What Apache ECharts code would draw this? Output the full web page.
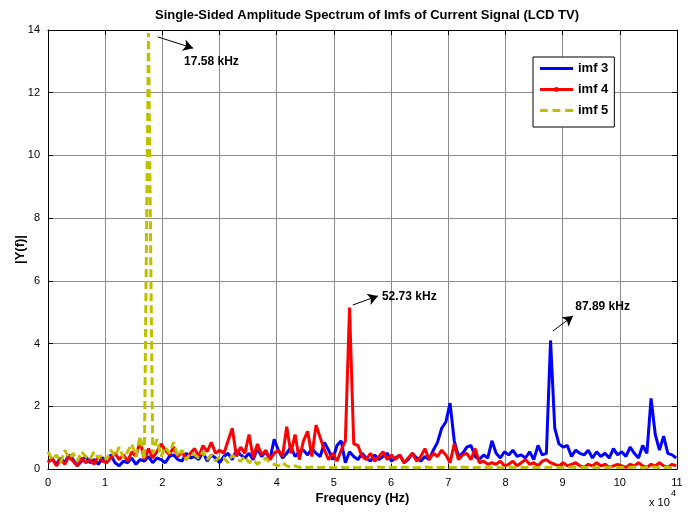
<!DOCTYPE html>
<html>
<head>
<meta charset="utf-8">
<script src="https://cdn.jsdelivr.net/npm/echarts@6/dist/echarts.min.js"></script>
<style>
  html, body { margin: 0; padding: 0; background: #fff; }
  #chart { width: 692px; height: 512px; }
</style>
</head>
<body>
<div id="chart"></div>
<script>
// frequency bin width, in units of 10^4 Hz
const binStep = 0.07324
const xTicks = ['0', '1', '2', '3', '4', '5', '6', '7', '8', '9', '10', '11']

// imf 3 (blue)
const imf3 = [
  0.25, 0.3, 0.15, 0.35, 0.2, 0.45, 0.3, 0.1, 0.25, 0.4, 0.2, 0.3, 0.15, 0.35,
  0.3, 0.45, 0.2, 0.1, 0.25, 0.2, 0.35, 0.15, 0.3, 0.25, 0.4, 0.2, 0.35, 0.3,
  0.2, 0.4, 0.45, 0.3, 0.25, 0.5, 0.35, 0.4, 0.3, 0.55, 0.25, 0.45, 0.35, 0.2,
  0.4, 0.5, 0.3, 0.6, 0.45, 0.35, 0.5, 0.3, 0.65, 0.4, 0.55, 0.3, 0.95,
  0.6, 0.35, 0.5, 0.7, 0.4, 0.55, 0.6, 0.45, 0.65, 0.5, 0.4, 0.85, 0.6, 0.3,
  0.75, 0.9, 0.2, 0.55, 0.4, 0.3, 0.5, 0.35, 0.25, 0.45, 0.3, 0.4, 0.5, 0.25,
  0.35, 0.45, 0.2, 0.3, 0.5, 0.35, 0.25, 0.4, 0.3, 0.6, 0.85, 1.3, 1.5,
  2.1, 0.9, 0.4, 0.5, 0.7, 0.75, 0.4, 0.3, 0.45, 0.35, 0.9, 0.5, 0.35, 0.55,
  0.45, 0.6, 0.4, 0.45, 0.35, 0.55, 0.3, 0.75, 0.45, 0.5, 4.1, 1.3, 0.8, 0.7,
  0.75, 0.4, 0.6, 0.5, 0.45, 0.6, 0.35, 0.55, 0.4, 0.5, 0.35, 0.65, 0.45,
  0.55, 0.4, 0.7, 0.5, 0.35, 0.75, 0.5, 2.25, 1.1, 0.6, 1.05, 0.5, 0.45, 0.35
]

// imf 4 (red)
const imf4 = [
  0.2, 0.35, 0.1, 0.3, 0.15, 0.4, 0.25, 0.1, 0.35, 0.2, 0.3, 0.15, 0.4, 0.25,
  0.2, 0.35, 0.5, 0.3, 0.45, 0.25, 0.55, 0.4, 0.9, 0.3, 0.65, 0.35, 0.55, 0.8,
  0.6, 0.45, 0.7, 0.4, 0.55, 0.3, 0.5, 0.65, 0.4, 0.75, 0.55, 0.85, 0.5, 0.6,
  0.5, 0.9, 1.3, 0.4, 0.7, 0.5, 1.1, 0.35, 0.8, 0.45, 0.6, 0.3, 0.5,
  0.6, 0.4, 1.35, 0.5, 1.1, 0.3, 0.9, 1.2, 0.4, 1.4, 1.0, 0.6, 0.3, 0.5,
  0.25, 0.6, 0.9, 5.15, 0.8, 0.75, 0.4, 0.3, 0.5, 0.25, 0.4, 0.55, 0.3, 0.45,
  0.3, 0.45, 0.2, 0.35, 0.5, 0.25, 0.4, 0.65, 0.3, 0.5, 0.4, 0.6, 0.45,
  0.2, 0.8, 0.3, 0.45, 0.5, 0.3, 0.65, 0.2, 0.25, 0.15, 0.2, 0.15, 0.25, 0.1,
  0.15, 0.25, 0.1, 0.2, 0.3, 0.15, 0.2, 0.1, 0.25, 0.3, 0.2, 0.15, 0.1, 0.2,
  0.1, 0.15, 0.2, 0.1, 0.05, 0.15, 0.1, 0.2, 0.1, 0.15, 0.05, 0.1, 0.15,
  0.1, 0.05, 0.15, 0.1, 0.2, 0.1, 0.05, 0.15, 0.1, 0.2, 0.1, 0.05, 0.15, 0.1
]

// imf 5 (yellow, dashed)
const imf5 = [
  0.55, 0.3, 0.45, 0.2, 0.6, 0.35, 0.5, 0.25, 0.55, 0.4, 0.3, 0.55, 0.35, 0.45,
  0.3, 0.6, 0.4, 0.7, 0.35, 0.55, 0.8, 0.4, 1.05, 0.3, 13.9, 0.5, 0.95, 0.4,
  0.7, 0.5, 0.85, 0.4, 0.6, 0.3, 0.5, 0.45, 0.35, 0.55, 0.3, 0.45, 0.25, 0.4,
  0.35, 0.2, 0.45, 0.3, 0.25, 0.4, 0.2, 0.3, 0.15, 0.25, 0.35, 0.2, 0.15,
  0.1, 0.2, 0.1, 0.05, 0.1, 0.05, 0.08, 0.05, 0.06, 0.05, 0.04, 0.06, 0.05, 0.04,
  0.05, 0.06, 0.04, 0.05, 0.05, 0.04, 0.06, 0.05, 0.04, 0.05, 0.06, 0.05, 0.04, 0.05,
  0.05, 0.04, 0.06, 0.05, 0.05, 0.04, 0.05, 0.06, 0.05, 0.04, 0.05, 0.05, 0.06,
  0.05, 0.04, 0.05, 0.06, 0.05, 0.04, 0.05, 0.05, 0.06, 0.04, 0.05, 0.05, 0.04, 0.05,
  0.06, 0.05, 0.04, 0.05, 0.05, 0.06, 0.04, 0.05, 0.05, 0.04, 0.06, 0.05, 0.05, 0.04,
  0.05, 0.06, 0.05, 0.04, 0.05, 0.05, 0.06, 0.04, 0.05, 0.05, 0.04, 0.06, 0.05,
  0.05, 0.04, 0.05, 0.06, 0.05, 0.04, 0.05, 0.05, 0.06, 0.04, 0.05, 0.05, 0.04, 0.05
]

// annotations: [arrow start x, y, arrow end x, y, text x, y, label]
const notes = [
  [1.92, 13.78, 2.54, 13.42, 2.38, 12.98, '17.58 kHz'],
  [5.33, 5.23, 5.77, 5.52, 5.84, 5.48, '52.73 kHz'],
  [8.83, 4.40, 9.18, 4.88, 9.22, 5.17, '87.89 kHz']
]

const FONT = '"Liberation Sans", Arial, sans-serif'

// legend icons (solid line, line with dot marker, dashed line)
const ICON_SOLID = 'path://M0,4.5 L34,4.5 L34,7.5 L0,7.5 Z'
const ICON_DOT = 'path://M0,4.5 L34,4.5 L34,7.5 L0,7.5 Z M14.5,6 A2.5,2.5 0 1 1 19.5,6 A2.5,2.5 0 1 1 14.5,6 Z'
const ICON_DASH = 'path://M0,4.5 L8,4.5 L8,7.5 L0,7.5 Z M13,4.5 L21,4.5 L21,7.5 L13,7.5 Z M26,4.5 L34,4.5 L34,7.5 L26,7.5 Z'

function pairs(arr) {
  return arr.map((v, i) => [i * binStep, v])
}

const chart = echarts.init(document.getElementById('chart'))

const axisCommon = {
  min: 0,
  axisLine: { show: true, onZero: false, lineStyle: { color: '#000', width: 1 } },
  axisTick: { show: true, inside: true, length: 5, lineStyle: { color: '#000' } },
  axisLabel: { color: '#000', fontSize: 11, fontFamily: FONT },
  splitLine: { show: false }
}

chart.setOption({
  animation: false,
  backgroundColor: '#fff',
  title: {
    text: 'Single-Sided Amplitude Spectrum of Imfs of Current Signal (LCD TV)',
    left: 362,
    textAlign: 'center',
    top: 4,
    textStyle: { fontSize: 13, fontWeight: 'bold', color: '#000', fontFamily: FONT }
  },
  grid: { left: 48, right: 15, top: 30, bottom: 43, outerBoundsMode: 'none' },
  legend: {
    data: [
      { name: 'imf 3', icon: ICON_SOLID },
      { name: 'imf 4', icon: ICON_DOT },
      { name: 'imf 5', icon: ICON_DASH }
    ],
    orient: 'vertical',
    left: 533,
    top: 57,
    padding: [5, 6, 10, 7],
    itemGap: 8,
    itemWidth: 33,
    itemHeight: 14,
    itemTextGap: 5,
    backgroundColor: '#fff',
    borderColor: '#000',
    borderWidth: 1,
    textStyle: { fontSize: 13, fontWeight: 'bold', color: '#000', fontFamily: FONT }
  },
  xAxis: [
    Object.assign({}, axisCommon, {
      type: 'value',
      max: 11,
      interval: 1,
      name: 'Frequency (Hz)',
      nameLocation: 'middle',
      nameGap: 23,
      nameMoveOverlap: false,
      nameTextStyle: { fontSize: 13, fontWeight: 'bold', color: '#000', fontFamily: FONT },
      axisLabel: Object.assign({}, axisCommon.axisLabel, {
        margin: 8,
        formatter: v => xTicks[Math.round(v)]
      }),
      splitLine: { show: true, lineStyle: { color: '#8c8c8c', width: 1 } }
    }),
    Object.assign({}, axisCommon, {
      type: 'value',
      position: 'top',
      max: 11,
      interval: 1,
      axisLabel: { show: false }
    })
  ],
  yAxis: [
    Object.assign({}, axisCommon, {
      type: 'value',
      max: 14,
      interval: 2,
      name: '|Y(f)|',
      nameLocation: 'middle',
      nameGap: 21,
      nameMoveOverlap: false,
      nameTextStyle: { fontSize: 13, fontWeight: 'bold', color: '#000', fontFamily: FONT },
      splitLine: { show: true, lineStyle: { color: '#8c8c8c', width: 1 } }
    }),
    Object.assign({}, axisCommon, {
      type: 'value',
      position: 'right',
      max: 14,
      interval: 2,
      axisLabel: { show: false }
    })
  ],
  graphic: [
    {
      type: 'text',
      left: 649,
      top: 497,
      style: { text: 'x 10', fontSize: 11, fill: '#000', fontFamily: FONT }
    },
    {
      type: 'text',
      left: 671,
      top: 489,
      style: { text: '4', fontSize: 9, fill: '#000', fontFamily: FONT }
    }
  ],
  series: [
    {
      name: 'imf 3',
      type: 'line',
      data: pairs(imf3),
      symbol: 'none',
      lineStyle: { color: '#0000ff', width: 3 },
      itemStyle: { color: '#0000ff' },
      z: 2
    },
    {
      name: 'imf 4',
      type: 'line',
      data: pairs(imf4),
      symbol: 'none',
      lineStyle: { color: '#ff0000', width: 3 },
      itemStyle: { color: '#ff0000' },
      z: 3
    },
    {
      name: 'imf 5',
      type: 'line',
      data: pairs(imf5),
      symbol: 'none',
      lineStyle: { color: '#bfbf00', width: 3, type: [8, 4] },
      itemStyle: { color: '#bfbf00' },
      z: 4,
      markLine: {
        silent: true,
        symbol: ['none', 'arrow'],
        symbolSize: [9, 10],
        lineStyle: { color: '#000', width: 1, type: 'solid' },
        label: { show: false },
        data: notes.map(n => [
          { coord: [n[0], n[1]] },
          { coord: [n[2], n[3]] }
        ])
      },
      markPoint: {
        silent: true,
        symbol: 'circle',
        symbolSize: 0,
        label: {
          show: true,
          position: 'right',
          distance: 0,
          fontSize: 12,
          fontWeight: 'bold',
          color: '#000',
          fontFamily: FONT,
          formatter: p => p.name
        },
        data: notes.map(n => ({ name: n[6], coord: [n[4], n[5]] }))
      }
    }
  ]
})
</script>
</body>
</html>
